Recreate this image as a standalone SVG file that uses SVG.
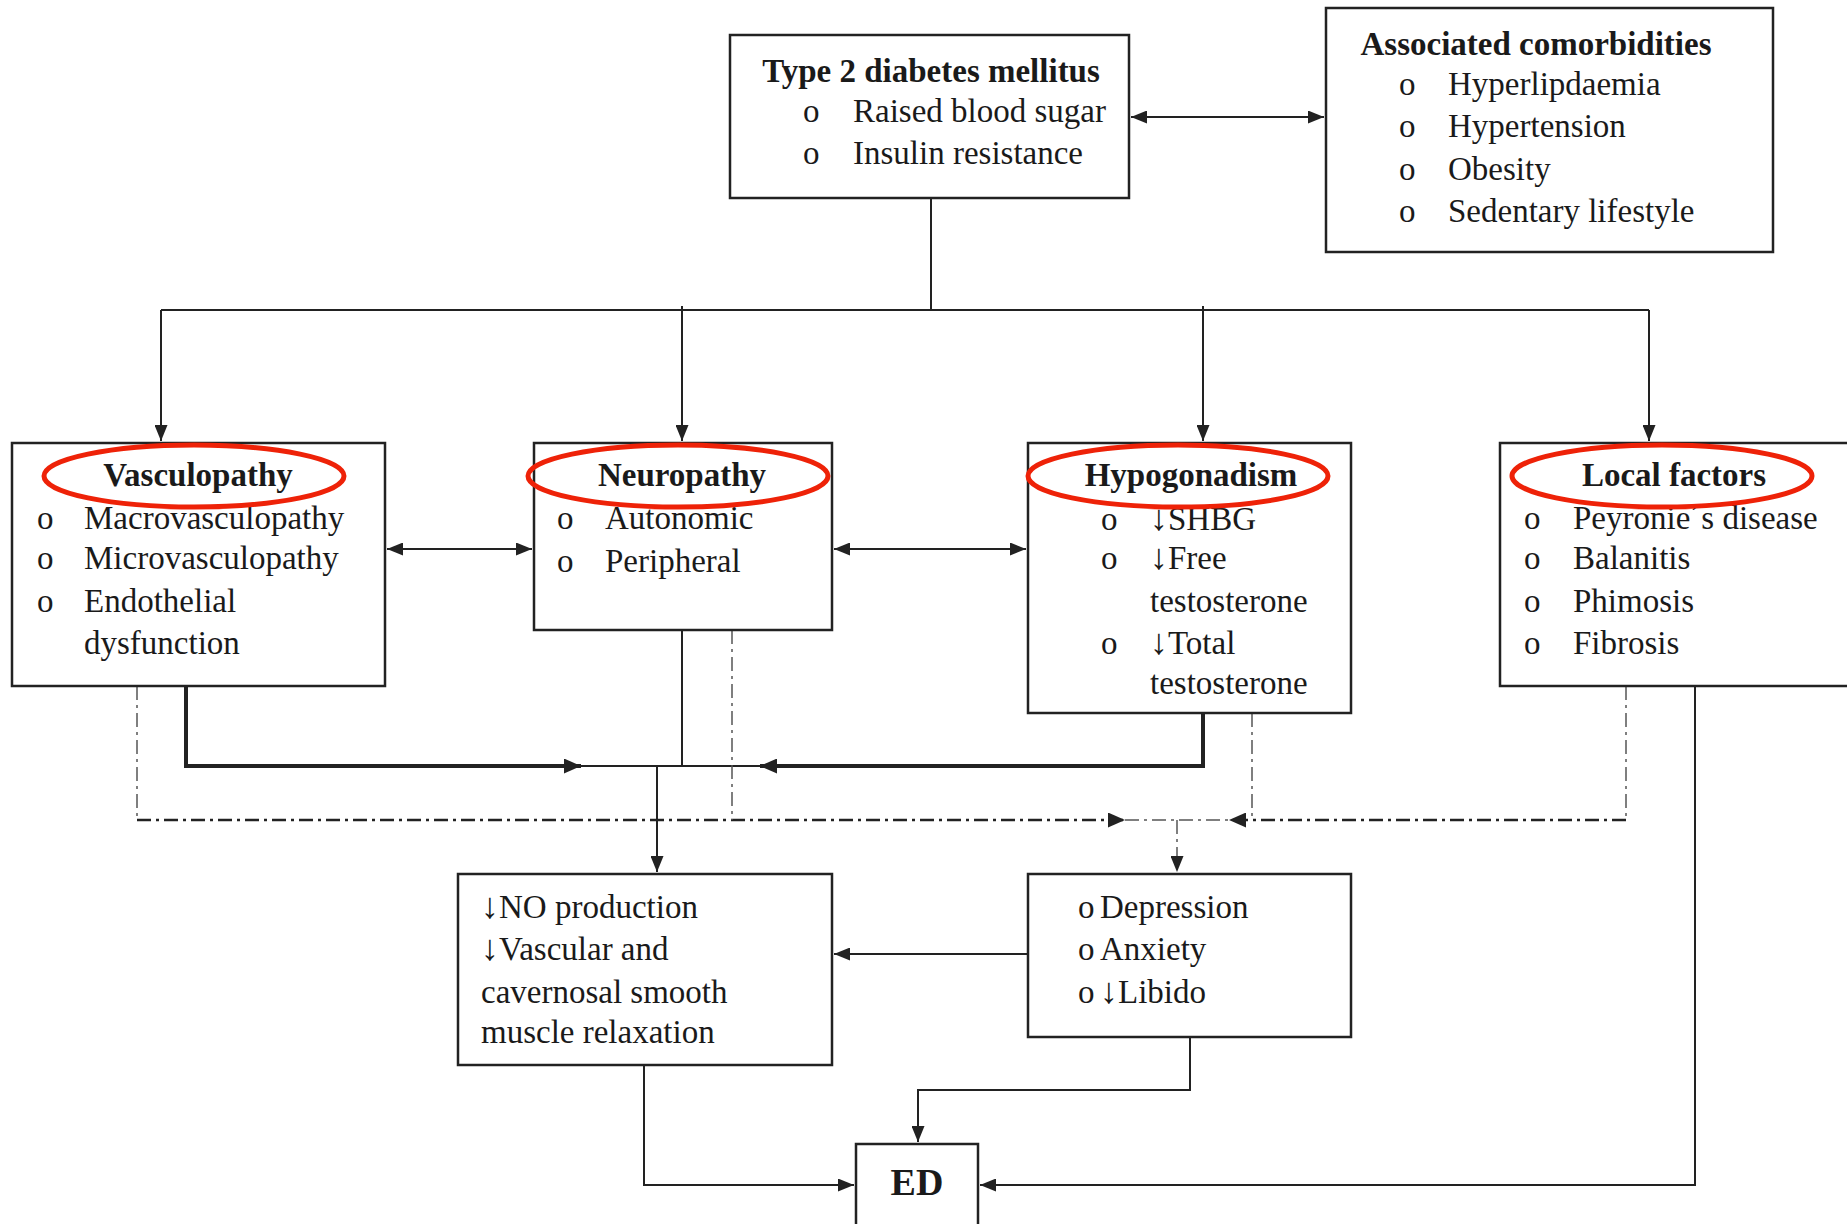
<svg xmlns="http://www.w3.org/2000/svg" width="1847" height="1224" viewBox="0 0 1847 1224">
<style>
.box{fill:#fff;stroke:#222;stroke-width:2.5}
.t{font-family:"Liberation Serif","Times New Roman",serif;font-size:33px;fill:#1a1a1a}
.h{font-weight:bold;text-anchor:middle}
.ar{font-size:36px}
.c{fill:none;stroke:#222;stroke-width:2}
.thick{fill:none;stroke:#222;stroke-width:4}
.dd{fill:none;stroke:#222;stroke-width:2.5;stroke-dasharray:14 5 3 5}
.ddv{fill:none;stroke:#555;stroke-width:1.5;stroke-dasharray:14 5 3 5}
.ring{fill:none;stroke:#ee2208;stroke-width:5}
</style>
<defs>
<marker id="ah" viewBox="0 0 16 13" refX="16" refY="6.5" markerWidth="16" markerHeight="13" markerUnits="userSpaceOnUse" orient="auto-start-reverse"><path d="M0,0 L16,6.5 L0,13 z" fill="#222"/></marker>
<marker id="ahb" viewBox="0 0 17 15" refX="17" refY="7.5" markerWidth="17" markerHeight="15" markerUnits="userSpaceOnUse" orient="auto-start-reverse"><path d="M0,0 L17,7.5 L0,15 z" fill="#222"/></marker>
</defs>

<g id="connectors">
<line class="c" x1="1131" y1="117" x2="1324" y2="117" marker-start="url(#ah)" marker-end="url(#ah)"/>
<path class="c" d="M931,198 V310"/>
<path class="c" d="M161,310 H1649"/>
<path class="c" d="M161,310 V441" marker-end="url(#ah)"/>
<path class="c" d="M682,306 V441" marker-end="url(#ah)"/>
<path class="c" d="M1203,306 V441" marker-end="url(#ah)"/>
<path class="c" d="M1649,310 V441" marker-end="url(#ah)"/>
<line class="c" x1="387" y1="549" x2="532" y2="549" marker-start="url(#ah)" marker-end="url(#ah)"/>
<line class="c" x1="834" y1="549" x2="1026" y2="549" marker-start="url(#ah)" marker-end="url(#ah)"/>
<path class="thick" d="M186,686 V766 H581" marker-end="url(#ahb)"/>
<path class="thick" d="M1203,713 V766 H760" marker-end="url(#ahb)"/>
<path class="c" d="M581,766 H760"/>
<path class="c" d="M682,630 V766"/>
<path class="c" d="M657,766 V872" marker-end="url(#ah)"/>
<path class="ddv" d="M137,686 V820"/>
<path class="dd" d="M137,820 H1125" marker-end="url(#ahb)"/>
<path class="ddv" d="M732,630 V820"/>
<path class="ddv" d="M1252,713 V820"/>
<path class="ddv" d="M1626,686 V820"/>
<path class="dd" d="M1626,820 H1229" marker-end="url(#ahb)"/>
<path class="ddv" d="M1125,820 H1229"/>
<path class="ddv" d="M1177,820 V872" marker-end="url(#ah)"/>
<path class="c" d="M1028,954 H834" marker-end="url(#ah)"/>
<path class="c" d="M1695,686 V1185 H980" marker-end="url(#ah)"/>
<path class="c" d="M644,1065 V1185 H854" marker-end="url(#ah)"/>
<path class="c" d="M1190,1037 V1090 H918 V1142" marker-end="url(#ah)"/>
</g>

<g id="t2dm">
<rect class="box" x="730" y="35" width="399" height="163"/>
<text class="t h" x="931" y="82">Type 2 diabetes mellitus</text>
<text class="t" x="803" y="122">o</text><text class="t" x="853" y="122">Raised blood sugar</text>
<text class="t" x="803" y="164">o</text><text class="t" x="853" y="164">Insulin resistance</text>
</g>

<g id="comorbidities">
<rect class="box" x="1326" y="8" width="447" height="244"/>
<text class="t h" x="1536" y="55">Associated comorbidities</text>
<text class="t" x="1399" y="95">o</text><text class="t" x="1448" y="95">Hyperlipdaemia</text>
<text class="t" x="1399" y="137">o</text><text class="t" x="1448" y="137">Hypertension</text>
<text class="t" x="1399" y="180">o</text><text class="t" x="1448" y="180">Obesity</text>
<text class="t" x="1399" y="222">o</text><text class="t" x="1448" y="222">Sedentary lifestyle</text>
</g>

<g id="vasculopathy">
<rect class="box" x="12" y="443" width="373" height="243"/>
<text class="t h" x="198" y="486">Vasculopathy</text>
<text class="t" x="37" y="529">o</text><text class="t" x="84" y="529">Macrovasculopathy</text>
<text class="t" x="37" y="569">o</text><text class="t" x="84" y="569">Microvasculopathy</text>
<text class="t" x="37" y="612">o</text><text class="t" x="84" y="612">Endothelial</text>
<text class="t" x="84" y="654">dysfunction</text>
</g>

<g id="neuropathy">
<rect class="box" x="534" y="443" width="298" height="187"/>
<text class="t h" x="682" y="486">Neuropathy</text>
<text class="t" x="557" y="529">o</text><text class="t" x="605" y="529">Autonomic</text>
<text class="t" x="557" y="572">o</text><text class="t" x="605" y="572">Peripheral</text>
</g>

<g id="hypogonadism">
<rect class="box" x="1028" y="443" width="323" height="270"/>
<text class="t h" x="1191" y="486">Hypogonadism</text>
<text class="t" x="1101" y="530">o</text><text class="t" x="1150" y="530"><tspan class="ar">↓</tspan>SHBG</text>
<text class="t" x="1101" y="569">o</text><text class="t" x="1150" y="569"><tspan class="ar">↓</tspan>Free</text>
<text class="t" x="1150" y="612">testosterone</text>
<text class="t" x="1101" y="654">o</text><text class="t" x="1150" y="654"><tspan class="ar">↓</tspan>Total</text>
<text class="t" x="1150" y="694">testosterone</text>
</g>

<g id="local-factors">
<rect class="box" x="1500" y="443" width="360" height="243"/>
<text class="t h" x="1674" y="486">Local factors</text>
<text class="t" x="1524" y="529">o</text><text class="t" x="1573" y="529">Peyronie´s disease</text>
<text class="t" x="1524" y="569">o</text><text class="t" x="1573" y="569">Balanitis</text>
<text class="t" x="1524" y="612">o</text><text class="t" x="1573" y="612">Phimosis</text>
<text class="t" x="1524" y="654">o</text><text class="t" x="1573" y="654">Fibrosis</text>
</g>

<g id="no-production">
<rect class="box" x="458" y="874" width="374" height="191"/>
<text class="t" x="481" y="918"><tspan class="ar">↓</tspan>NO production</text>
<text class="t" x="481" y="960"><tspan class="ar">↓</tspan>Vascular and</text>
<text class="t" x="481" y="1003">cavernosal smooth</text>
<text class="t" x="481" y="1043">muscle relaxation</text>
</g>

<g id="psych">
<rect class="box" x="1028" y="874" width="323" height="163"/>
<text class="t" x="1078" y="918">o</text><text class="t" x="1100" y="918">Depression</text>
<text class="t" x="1078" y="960">o</text><text class="t" x="1100" y="960">Anxiety</text>
<text class="t" x="1078" y="1003">o</text><text class="t" x="1100" y="1003"><tspan class="ar">↓</tspan>Libido</text>
</g>

<g id="ed">
<rect class="box" x="856" y="1144" width="122" height="90"/>
<text class="t h" x="917" y="1195" style="font-size:38px">ED</text>
</g>

<g id="highlights">
<ellipse class="ring" cx="194" cy="476" rx="150" ry="31"/>
<ellipse class="ring" cx="678" cy="476" rx="150" ry="31"/>
<ellipse class="ring" cx="1178" cy="476" rx="150" ry="31"/>
<ellipse class="ring" cx="1662" cy="476" rx="150" ry="31"/>
</g>
</svg>
